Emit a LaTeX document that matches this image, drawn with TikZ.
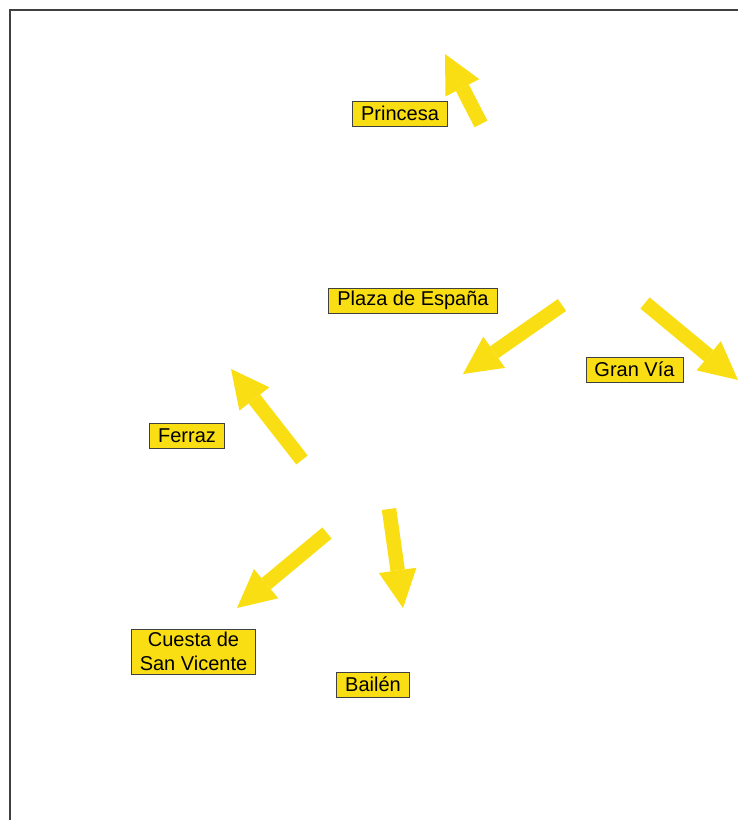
\documentclass[tikz,border=0pt]{standalone}
\usepackage{fontspec}
\setmainfont{Liberation Sans}
\usetikzlibrary{arrows.meta,positioning}
\definecolor{signyellow}{RGB}{250,222,20}

\begin{document}
\begin{tikzpicture}[x=1pt, y=-1pt,
    street/.style={draw=black!75, line width=0.8pt, fill=signyellow, inner xsep=8.5pt, inner ysep=1.5pt,
        minimum height=25pt, align=center, font=\fontsize{20}{23.5}\selectfont},
    flow/.style={signyellow, line width=14.5pt, line cap=butt,
        -{Triangle[width=38pt, length=38pt, line width=0pt]}}]
    \useasboundingbox (0,0) rectangle (738,820);

    % Frame
    \draw[black!75, line width=1.2pt] (738,10) -- (10,10) -- (10,820);

    % Street labels
    \node[street] (princesa) at (400,113.5) {Princesa};
    \node[street] (plaza) at (413,300.5) {Plaza de España};
    \node[street] (granvia) at (634.5,369.5) {Gran Vía};
    \node[street] (ferraz) at (187,435.5) {Ferraz};
    \node[street, inner ysep=3.5pt] (cuesta) at (193.5,651.5) {Cuesta de\\San Vicente};
    \node[street] (bailen) at (373,684.5) {Bailén};

    % Traffic flows
    \coordinate (princesa tail) at (481,124);
    \coordinate (princesa tip) at (445,54);
    \coordinate (plaza tail) at (562,305);
    \coordinate (plaza tip) at (463,374);
    \coordinate (granvia tail) at (645,303);
    \coordinate (granvia tip) at (738,380);
    \coordinate (ferraz tail) at (302,460);
    \coordinate (ferraz tip) at (231,369);
    \coordinate (cuesta tail) at (327,533);
    \coordinate (cuesta tip) at (237,608);
    \coordinate (bailen tail) at (389,509);
    \coordinate (bailen tip) at (403,608);

    \draw[flow] (princesa tail) -- (princesa tip);
    \draw[flow] (plaza tail) -- (plaza tip);
    \draw[flow] (granvia tail) -- (granvia tip);
    \draw[flow] (ferraz tail) -- (ferraz tip);
    \draw[flow] (cuesta tail) -- (cuesta tip);
    \draw[flow] (bailen tail) -- (bailen tip);
\end{tikzpicture}
\end{document}
